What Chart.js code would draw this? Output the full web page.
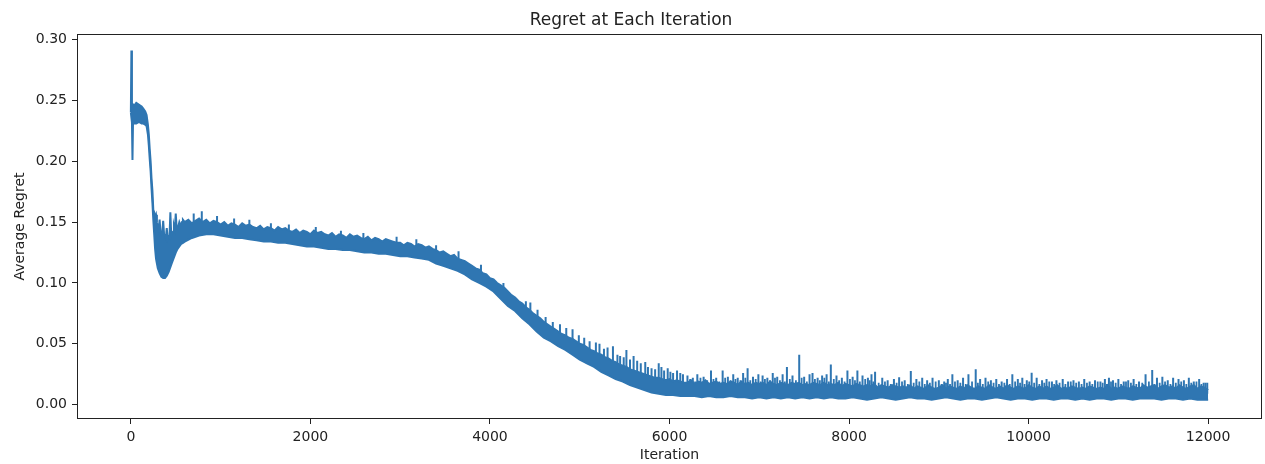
<!DOCTYPE html>
<html>
<head>
<meta charset="utf-8">
<script src="https://cdn.jsdelivr.net/npm/chart.js@4.4.1/dist/chart.umd.min.js"></script>
<style>
  html, body { margin: 0; padding: 0; background: #fff; }
  #wrap { width: 1265px; height: 464px; position: relative; }
</style>
</head>
<body>
<div id="wrap"><canvas id="chart"></canvas></div>
<script>
// The per-iteration curve is very noisy, so it is read off the plot as the
// top and bottom edge of the solid band, plus the single spikes above it.

// top edge of the band
var highIter = [
  0,6,12,20,40,60,80,100,120,140,160,175,190,200,210,220,230,240,250,260,
  270,280,290,300,310,320,330,340,350,360,370,380,390,400,410,420,430,440,450,460,
  470,480,490,500,510,520,530,540,550,560,570,580,
  600,640,680,720,760,800,840,880,920,960,
  1000,1040,1080,1120,1160,1200,1240,1280,1320,1360,
  1400,1440,1480,1520,1560,1600,1640,1680,1720,1760,
  1800,1840,1880,1920,1960,2000,2040,2080,2120,2160,
  2200,2240,2280,2320,2360,2400,2440,2480,2520,2560,
  2600,2640,2680,2720,2760,2800,2840,2880,2920,2960,
  3000,3040,3080,3120,3160,3200,3240,3280,3320,3360,
  3400,3440,3480,3520,3560,3600,3640,3680,3720,3760,
  3800,3840,3880,3920,3960,4000,4040,4080,4120,4160,
  4200,4240,4280,4320,4360,4400,4440,4480,4520,4560,
  4600,4640,4680,4720,4760,4800,4840,4880,4920,4960,
  5000,5040,5080,5120,5160,5200,5240,5280,5320,5360,
  5400,5440,5480,5520,5560,5600,5640,5680,5720,5760,
  5800,5840,5880,5920,5960,6000,6040,6080,6120,6160,
  6200,6240,6280,6320,6360,6400,6440,6480,6520,6560,
  6600,6640,6680,6720,6760,6800,6840,6880,6920,6960,
  7000,7040,7080,7120,7160,7200,7240,7280,7320,7360,
  7400,7440,7480,7520,7560,7600,7640,7680,7720,7760,
  7800,7840,7880,7920,7960,8000,8040,8080,8120,8160,
  8200,8240,8280,8320,8360,8400,8440,8480,8520,8560,
  8600,8640,8680,8720,8760,8800,8840,8880,8920,8960,
  9000,9040,9080,9120,9160,9200,9240,9280,9320,9360,
  9400,9440,9480,9520,9560,9600,9640,9680,9720,9760,
  9800,9840,9880,9920,9960,10000,10040,10080,10120,10160,
  10200,10240,10280,10320,10360,10400,10440,10480,10520,10560,
  10600,10640,10680,10720,10760,10800,10840,10880,10920,10960,
  11000,11040,11080,11120,11160,11200,11240,11280,11320,11360,
  11400,11440,11480,11520,11560,11600,11640,11680,11720,11760,
  11800,11840,11880,11920,11960,12000
];
var highRegret = [
  0.240,0.291,0.246,0.247,0.246,0.248,0.247,0.246,0.245,0.243,0.241,0.238,0.230,0.222,0.210,0.200,0.186,0.176,0.160,0.158,
  0.154,0.156,0.150,0.146,0.143,0.152,0.142,0.140,0.141,0.151,0.140,0.139,0.137,0.145,0.136,0.138,0.137,0.158,0.139,0.141,
  0.142,0.147,0.144,0.157,0.145,0.146,0.147,0.150,0.148,0.148,0.150,0.152,
  0.150,0.152,0.149,0.151,0.153,0.150,0.152,0.149,0.151,0.150,
  0.148,0.150,0.147,0.149,0.148,0.146,0.149,0.147,0.148,0.146,
  0.145,0.147,0.144,0.146,0.145,0.143,0.146,0.144,0.145,0.143,
  0.142,0.144,0.141,0.143,0.142,0.140,0.143,0.141,0.142,0.140,
  0.139,0.141,0.138,0.140,0.139,0.137,0.140,0.138,0.139,0.137,
  0.136,0.138,0.135,0.137,0.136,0.134,0.136,0.135,0.134,0.133,
  0.133,0.131,0.133,0.132,0.130,0.132,0.131,0.129,0.130,0.128,
  0.127,0.125,0.126,0.124,0.122,0.123,0.120,0.119,0.118,0.116,
  0.114,0.112,0.111,0.108,0.107,0.104,0.103,0.100,0.098,0.096,
  0.093,0.090,0.088,0.085,0.083,0.080,0.078,0.075,0.073,0.071,
  0.068,0.066,0.064,0.062,0.060,0.058,0.057,0.055,0.054,0.052,
  0.050,0.049,0.047,0.045,0.044,0.042,0.041,0.039,0.038,0.036,
  0.035,0.033,0.032,0.031,0.029,0.028,0.027,0.026,0.025,0.024,
  0.023,0.022,0.022,0.021,0.020,0.021,0.019,0.020,0.019,0.018,
  0.018,0.020,0.017,0.019,0.018,0.020,0.017,0.018,0.019,0.017,
  0.018,0.017,0.019,0.018,0.016,0.019,0.017,0.018,0.016,0.018,
  0.017,0.018,0.016,0.019,0.017,0.016,0.018,0.017,0.016,0.018,
  0.017,0.018,0.016,0.017,0.016,0.018,0.017,0.016,0.018,0.016,
  0.017,0.016,0.018,0.015,0.017,0.016,0.015,0.017,0.016,0.015,
  0.016,0.015,0.017,0.014,0.016,0.015,0.014,0.016,0.015,0.014,
  0.015,0.014,0.016,0.013,0.015,0.014,0.013,0.016,0.014,0.013,
  0.014,0.016,0.013,0.015,0.014,0.013,0.015,0.013,0.016,0.014,
  0.013,0.015,0.014,0.013,0.016,0.014,0.013,0.015,0.013,0.016,
  0.014,0.013,0.015,0.014,0.013,0.016,0.014,0.013,0.015,0.013,
  0.015,0.013,0.014,0.016,0.013,0.014,0.013,0.015,0.014,0.013,
  0.014,0.013,0.015,0.014,0.013,0.014,0.013,0.016,0.013,0.014,
  0.013,0.015,0.014,0.013,0.015,0.014,0.013,0.016,0.014,0.015,
  0.016,0.013,0.015,0.016,0.014,0.015,0.013,0.016,0.014,0.013,
  0.015,0.016,0.013,0.015,0.014,0.012
];

// bottom edge of the band
var lowIter = [
  0,12,18,24,40,60,80,100,120,140,160,175,190,200,210,220,230,240,250,260,
  270,280,290,300,320,340,360,380,400,420,440,460,480,500,520,540,560,580,
  600,680,760,840,920,1000,1080,1160,1240,1320,
  1400,1480,1560,1640,1720,1800,1880,1960,2040,2120,
  2200,2280,2360,2440,2520,2600,2680,2760,2840,2920,
  3000,3080,3160,3240,3320,3400,3480,3560,3640,3720,
  3800,3880,3960,4040,4120,4200,4280,4360,4440,4520,
  4600,4680,4760,4840,4920,5000,5080,5160,5240,5320,
  5400,5480,5560,5640,5720,5800,5880,5960,6040,6120,
  6200,6280,6360,6440,6520,6600,6680,6760,6840,6920,
  7000,7080,7160,7240,7320,7400,7480,7560,7640,7720,
  7800,7880,7960,8040,8120,8200,8280,8360,8440,8520,
  8600,8680,8760,8840,8920,9000,9080,9160,9240,9320,
  9400,9480,9560,9640,9720,9800,9880,9960,10040,10120,
  10200,10280,10360,10440,10520,10600,10680,10760,10840,10920,
  11000,11080,11160,11240,11320,11400,11480,11560,11640,11720,
  11800,11880,11960,12000
];
var lowRegret = [
  0.240,0.232,0.201,0.232,0.231,0.231,0.232,0.232,0.231,0.231,0.230,0.229,0.222,0.213,0.202,0.192,0.178,0.166,0.152,0.140,
  0.128,0.120,0.116,0.112,0.108,0.105,0.104,0.104,0.106,0.109,0.113,0.117,0.121,0.125,0.128,0.130,0.132,0.133,
  0.134,0.137,0.139,0.140,0.140,0.139,0.138,0.137,0.137,0.136,
  0.135,0.134,0.134,0.133,0.133,0.132,0.131,0.130,0.130,0.129,
  0.128,0.128,0.127,0.127,0.126,0.125,0.125,0.124,0.124,0.123,
  0.122,0.122,0.121,0.120,0.119,0.116,0.114,0.112,0.110,0.107,
  0.103,0.100,0.097,0.093,0.087,0.081,0.077,0.071,0.066,0.060,
  0.055,0.052,0.048,0.045,0.041,0.037,0.034,0.031,0.027,0.024,
  0.021,0.019,0.016,0.014,0.012,0.010,0.009,0.008,0.008,0.007,
  0.007,0.007,0.006,0.007,0.006,0.006,0.007,0.006,0.006,0.005,
  0.006,0.005,0.006,0.005,0.006,0.005,0.006,0.005,0.006,0.005,
  0.006,0.005,0.005,0.006,0.005,0.004,0.005,0.006,0.005,0.004,
  0.005,0.006,0.005,0.005,0.004,0.005,0.006,0.005,0.004,0.005,
  0.005,0.004,0.005,0.006,0.005,0.004,0.005,0.005,0.004,0.005,
  0.005,0.004,0.005,0.005,0.004,0.005,0.004,0.005,0.005,0.004,
  0.005,0.005,0.004,0.005,0.005,0.005,0.004,0.005,0.005,0.004,
  0.005,0.004,0.004,0.004
];

// tall single spikes rising above the band: iteration, foot and peak
var spikeIter = [
  700,790,960,1150,1320,1560,1760,2060,2340,2590,
  2960,3180,3400,3650,3900,4150,4400,4450,4530,4620,
  4700,4780,4850,4920,4990,5050,5110,5180,5220,5270,
  5310,5370,5420,5450,5490,5520,5560,5600,5640,5680,
  5730,5760,5800,5840,5880,5910,5940,5980,6010,6040,
  6084,6120,6150,6200,6260,6310,6380,6462,6520,6592,
  6650,6710,6760,6820,6870,6930,6990,7037,7090,7150,
  7200,7260,7308,7370,7445,7500,7560,7593,7650,7700,
  7750,7797,7860,7920,7982,8040,8093,8150,8210,8250,
  8290,8370,8430,8500,8558,8620,8688,8750,8815,8870,
  8930,9000,9060,9100,9151,9210,9270,9330,9411,9460,
  9520,9580,9640,9700,9760,9819,9880,9930,9980,10034,
  10090,10150,10200,10260,10310,10380,10440,10500,10560,10620,
  10680,10740,10800,10850,10895,10940,11000,11060,11110,11170,
  11230,11303,11377,11430,11490,11550,11610,11670,11730,11785,
  11840,11900,11950,11990
];
var spikeFoot = [
  0.142,0.142,0.141,0.140,0.139,0.137,0.136,0.133,0.131,0.129,
  0.126,0.124,0.120,0.114,0.105,0.090,0.075,0.070,0.065,0.058,
  0.058,0.052,0.048,0.046,0.042,0.040,0.036,0.035,0.034,0.030,
  0.029,0.028,0.025,0.025,0.023,0.022,0.021,0.020,0.018,0.018,
  0.016,0.015,0.014,0.013,0.013,0.012,0.012,0.011,0.011,0.010,
  0.010,0.010,0.010,0.010,0.010,0.010,0.010,0.010,0.010,0.010,
  0.010,0.010,0.010,0.010,0.010,0.010,0.010,0.010,0.010,0.010,
  0.010,0.010,0.010,0.010,0.010,0.010,0.010,0.010,0.010,0.010,
  0.010,0.010,0.010,0.010,0.010,0.010,0.010,0.010,0.010,0.010,
  0.010,0.009,0.009,0.009,0.009,0.009,0.009,0.009,0.009,0.009,
  0.009,0.009,0.009,0.009,0.009,0.009,0.009,0.009,0.009,0.009,
  0.009,0.009,0.009,0.009,0.009,0.009,0.009,0.009,0.009,0.009,
  0.009,0.009,0.009,0.009,0.009,0.009,0.009,0.009,0.009,0.009,
  0.009,0.009,0.009,0.009,0.009,0.009,0.009,0.009,0.009,0.009,
  0.009,0.009,0.009,0.009,0.009,0.009,0.009,0.009,0.009,0.009,
  0.009,0.009,0.009,0.009
];
var spikePeak = [
  0.157,0.159,0.155,0.153,0.152,0.149,0.148,0.146,0.143,0.141,
  0.138,0.136,0.131,0.126,0.115,0.100,0.085,0.084,0.078,0.072,
  0.068,0.066,0.063,0.062,0.057,0.055,0.052,0.051,0.050,0.046,
  0.047,0.048,0.041,0.040,0.039,0.045,0.037,0.040,0.036,0.034,
  0.035,0.031,0.030,0.029,0.034,0.031,0.028,0.030,0.027,0.026,
  0.028,0.026,0.025,0.024,0.022,0.025,0.023,0.028,0.022,0.028,
  0.023,0.025,0.022,0.026,0.030,0.023,0.025,0.024,0.022,0.026,
  0.023,0.025,0.031,0.024,0.041,0.023,0.025,0.026,0.022,0.024,
  0.025,0.033,0.024,0.022,0.028,0.023,0.028,0.024,0.022,0.025,
  0.027,0.022,0.020,0.021,0.0225,0.020,0.0276,0.021,0.022,0.020,
  0.022,0.020,0.019,0.021,0.025,0.020,0.022,0.025,0.029,0.021,
  0.022,0.020,0.021,0.019,0.021,0.025,0.021,0.022,0.020,0.0263,
  0.022,0.020,0.021,0.019,0.020,0.021,0.019,0.020,0.019,0.021,
  0.019,0.020,0.019,0.021,0.022,0.020,0.021,0.019,0.020,0.021,
  0.019,0.025,0.0284,0.022,0.023,0.020,0.022,0.021,0.020,0.022,
  0.019,0.021,0.018,0.018
];

// shorter spikes between them in the flat tail, all rising from the band body
var minorIter = [
  6230,6285,6345,6420,6490,6555,6620,6680,6735,6790,
  6845,6900,6960,7015,7063,7120,7175,7230,7285,7340,
  7408,7472,7530,7620,7675,7725,7775,7830,7890,7950,
  8010,8066,8120,8180,8230,8270,8330,8400,8465,8530,
  8590,8655,8720,8783,8843,8900,8965,9030,9080,9125,
  9180,9240,9300,9370,9435,9490,9550,9610,9670,9730,
  9790,9850,9905,9955,10007,10062,10120,10175,10230,10285,
  10345,10410,10470,10530,10590,10650,10710,10770,10825,10872,
  10918,10970,11030,11085,11140,11200,11266,11340,11403,11460,
  11520,11580,11640,11700,11757,11812,11870,11925,11970
];
var minorPeak = [
  0.021,0.019,0.022,0.020,0.021,0.019,0.022,0.020,0.021,0.020,
  0.022,0.020,0.021,0.019,0.021,0.020,0.022,0.020,0.019,0.021,
  0.020,0.022,0.019,0.021,0.020,0.022,0.019,0.021,0.020,0.019,
  0.021,0.020,0.019,0.021,0.020,0.019,0.018,0.019,0.017,0.018,
  0.019,0.017,0.018,0.019,0.017,0.018,0.019,0.017,0.018,0.017,
  0.019,0.018,0.017,0.019,0.018,0.017,0.019,0.018,0.017,0.018,
  0.017,0.019,0.018,0.017,0.019,0.018,0.017,0.018,0.019,0.017,
  0.018,0.017,0.019,0.018,0.017,0.018,0.017,0.019,0.018,0.017,
  0.019,0.018,0.017,0.019,0.018,0.017,0.018,0.019,0.017,0.018,
  0.019,0.017,0.018,0.019,0.017,0.018,0.019,0.017,0.018
];
var minorFoot = 0.010;

var xTicks = [0, 2000, 4000, 6000, 8000, 10000, 12000];
var yTicks = [0.00, 0.05, 0.10, 0.15, 0.20, 0.25, 0.30];

var FONT = "'DejaVu Sans', sans-serif";
var INK = '#222';
var BLUE = '#2f76b2';

// box round the plot area, like the matplotlib spines
var frame = {
    id: 'frame',
    afterDatasetsDraw: function (chart) {
        var a = chart.chartArea, ctx = chart.ctx;
        ctx.save();
        ctx.strokeStyle = INK;
        ctx.lineWidth = 1;
        ctx.strokeRect(Math.round(a.left) + 0.5, Math.round(a.top) + 0.5,
            Math.round(a.right - a.left) - 1, Math.round(a.bottom - a.top) - 1);
        ctx.restore();
    }
};

function pairs(xs, ys) {
    return xs.map(function (x, i) { return {x: x, y: ys[i]}; });
}

// each spike is a vertical stroke; a null point breaks the line between them
function strokes(xs, foot, peak) {
    var out = [];
    xs.forEach(function (it, i) {
        var f = Array.isArray(foot) ? foot[i] : foot;
        out.push({x: it, y: f}, {x: it, y: peak[i]}, {x: it, y: null});
    });
    return out;
}

function lineSet(data, width, fill) {
    return {
        data: data,
        borderColor: BLUE,
        backgroundColor: BLUE,
        borderWidth: width,
        pointRadius: 0,
        tension: 0,
        spanGaps: false,
        fill: fill
    };
}

new Chart(document.getElementById('chart'), {
    type: 'line',
    data: {
        datasets: [
            lineSet(pairs(lowIter, lowRegret), 2, false),
            lineSet(pairs(highIter, highRegret), 2, '-1'),
            lineSet(strokes(spikeIter, spikeFoot, spikePeak), 2, false),
            lineSet(strokes(minorIter, minorFoot, minorPeak), 1.8, false)
        ]
    },
    options: {
        responsive: true,
        maintainAspectRatio: false,
        animation: false,
        layout: { padding: { left: 0, right: 3, top: 0, bottom: 0 } },
        plugins: {
            legend: { display: false },
            tooltip: { enabled: false },
            title: {
                display: true,
                text: 'Regret at Each Iteration',
                color: INK,
                font: { family: FONT, size: 17, weight: 'normal', lineHeight: 1.2 },
                padding: { top: 10, bottom: 3.6 }
            }
        },
        scales: {
            x: {
                type: 'linear',
                min: -600,
                max: 12600,
                afterBuildTicks: function (s) { s.ticks = xTicks.map(function (v) { return {value: v}; }); },
                afterFit: function (s) { s.height = 45; },
                border: { display: false },
                grid: { display: true, drawOnChartArea: false, drawTicks: true, tickLength: 5, color: INK },
                ticks: {
                    color: INK, padding: 5, maxRotation: 0, autoSkip: false,
                    font: { family: FONT, size: 14 },
                    callback: function (v) { return String(v); }
                },
                title: {
                    display: true, text: 'Iteration', color: INK,
                    font: { family: FONT, size: 14 },
                    padding: { top: 0, bottom: 0 }
                }
            },
            y: {
                type: 'linear',
                min: -0.0118,
                max: 0.3046,
                afterBuildTicks: function (s) { s.ticks = yTicks.map(function (v) { return {value: v}; }); },
                afterFit: function (s) { s.width = 77; },
                border: { display: false },
                grid: { display: true, drawOnChartArea: false, drawTicks: true, tickLength: 5, color: INK },
                ticks: {
                    color: INK, padding: 5, autoSkip: false,
                    font: { family: FONT, size: 14 },
                    callback: function (v) { return v.toFixed(2); }
                },
                title: {
                    display: true, text: 'Average Regret', color: INK,
                    font: { family: FONT, size: 14 },
                    padding: { top: 12, bottom: 0 }
                }
            }
        }
    },
    plugins: [frame]
});
</script>
</body>
</html>
